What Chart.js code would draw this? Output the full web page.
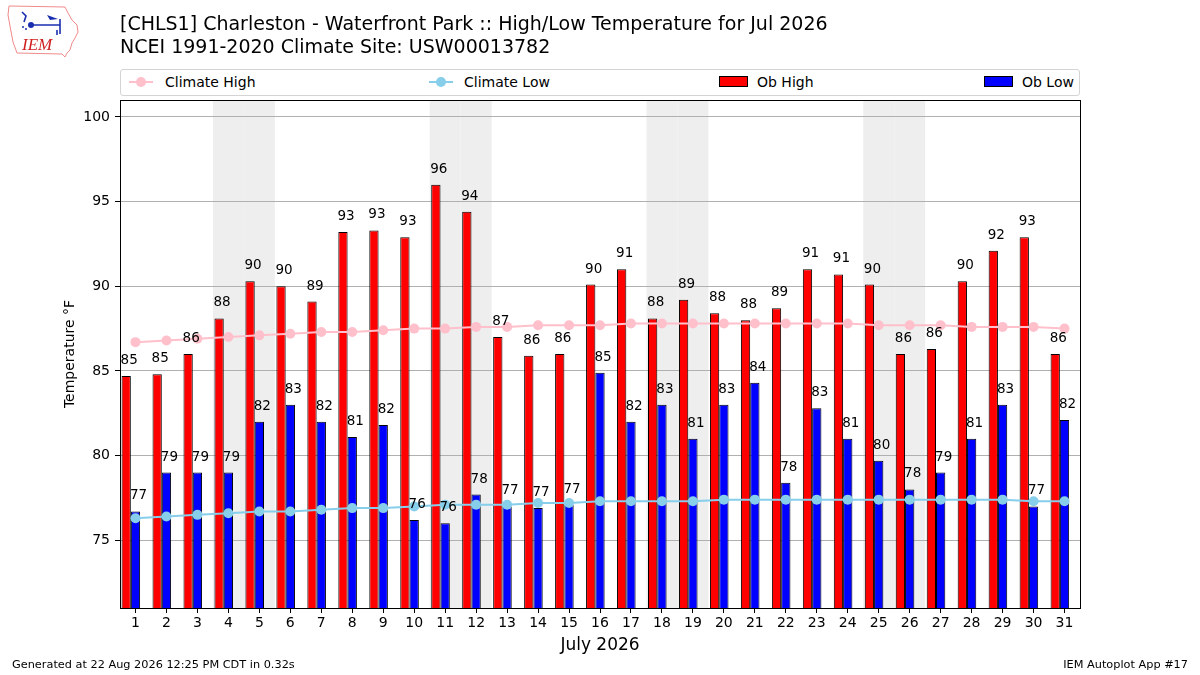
<!DOCTYPE html>
<html>
<head>
<meta charset="utf-8">
<script src="https://cdn.jsdelivr.net/npm/chart.js@4.4.1/dist/chart.umd.min.js"></script>
<style>
body { margin: 0; background: #fff; font-family: "DejaVu Sans", sans-serif; }
#wrap { position: relative; width: 1200px; height: 675px; overflow: hidden; }
#chart { position: absolute; left: 0; top: 0; }
.t { position: absolute; white-space: nowrap; color: #000; }
#legend { position: absolute; left: 120px; top: 69px; width: 958px; height: 25px;
  border: 1px solid #d4d4d4; border-radius: 3px; background: #fff; }
.sw { position: absolute; }
</style>
</head>
<body>
<div id="wrap">
  <canvas id="chart" width="1200" height="675"></canvas>

  <!-- IEM logo -->
  <svg class="sw" style="left:0;top:0" width="90" height="65" viewBox="0 0 90 65">
    <path d="M9,6 L65,7 L68,13 L72,20 L77,25 L78,32 L75,38 L72,43 L70,50 L67,53 L65,57 L62,54 L17,53 L13,42 L10,26 L8,15 Z"
          fill="none" stroke="#f08a8a" stroke-width="1"/>
    <path d="M22,12 L26,16 L24,22 M31,25 L60,25 M60,19 L60,34 M57,30 L57,35" stroke="#1a2fb0" stroke-width="1.6" fill="none"/>
    <path d="M47,15 L58,19 L50,20 Z" fill="#1a2fb0"/>
    <circle cx="31" cy="25" r="3" fill="#1a2fb0"/>
    <circle cx="23" cy="27" r="1" fill="#1a2fb0"/>
    <circle cx="26" cy="29" r="1" fill="#1a2fb0"/>
    <text x="22" y="50" font-family="Liberation Serif" font-style="italic" font-size="17" fill="#d02020">IEM</text>
  </svg>

  <div class="t" style="left:120px;top:12px;font-size:19px;line-height:23px">[CHLS1] Charleston - Waterfront Park :: High/Low Temperature for Jul 2026</div>
  <div class="t" style="left:120px;top:35px;font-size:19px;line-height:23px">NCEI 1991-2020 Climate Site: USW00013782</div>

  <div id="legend">
    <svg class="sw" style="left:7px;top:5px" width="26" height="14"><line x1="1" y1="7" x2="25" y2="7" stroke="#ffc0cb" stroke-width="2"/><circle cx="13" cy="7" r="5" fill="#ffc0cb"/></svg>
    <div class="t" style="left:44px;top:3px;font-size:14px;line-height:18px">Climate High</div>
    <svg class="sw" style="left:307px;top:5px" width="26" height="14"><line x1="1" y1="7" x2="25" y2="7" stroke="#87ceeb" stroke-width="2"/><circle cx="13" cy="7" r="5" fill="#87ceeb"/></svg>
    <div class="t" style="left:343px;top:3px;font-size:14px;line-height:18px">Climate Low</div>
    <div class="sw" style="left:598px;top:6px;width:27px;height:9px;background:#ff0000;border:1px solid #000"></div>
    <div class="t" style="left:636px;top:3px;font-size:14px;line-height:18px">Ob High</div>
    <div class="sw" style="left:863px;top:6px;width:27px;height:9px;background:#0000ff;border:1px solid #000"></div>
    <div class="t" style="left:901px;top:3px;font-size:14px;line-height:18px">Ob Low</div>
  </div>

  <div class="t" style="left:12px;top:658px;font-size:11.3px;line-height:14px">Generated at 22 Aug 2026 12:25 PM CDT in 0.32s</div>
  <div class="t" style="right:12px;top:658px;font-size:11.3px;line-height:14px">IEM Autoplot App #17</div>
</div>

<script>
// days of July 2026
var days = ['1','2','3','4','5','6','7','8','9','10','11','12','13','14','15','16',
            '17','18','19','20','21','22','23','24','25','26','27','28','29','30','31'];

// observed high / low (F)
var obHigh = [84.7, 84.8, 86.0, 88.1, 90.3, 90.0, 89.1, 93.2, 93.3, 92.9, 96.0, 94.4, 87.0, 85.9, 86.0, 90.1,
              91.0, 88.1, 89.2, 88.4, 88.0, 88.7, 91.0, 90.7, 90.1, 86.0, 86.3, 90.3, 92.1, 92.9, 86.0];
var obLow  = [76.7, 79.0, 79.0, 79.0, 82.0, 83.0, 82.0, 81.1, 81.8, 76.2, 76.0, 77.7, 77.0, 76.9, 77.1, 84.9,
              82.0, 83.0, 81.0, 83.0, 84.3, 78.4, 82.8, 81.0, 79.7, 78.0, 79.0, 81.0, 83.0, 77.0, 82.1];

// NCEI climate averages
var climHigh = [86.7, 86.8, 86.9, 87.0, 87.1, 87.2, 87.3, 87.3, 87.4, 87.5, 87.5, 87.6, 87.6, 87.7, 87.7, 87.7,
                87.8, 87.8, 87.8, 87.8, 87.8, 87.8, 87.8, 87.8, 87.7, 87.7, 87.7, 87.6, 87.6, 87.6, 87.5];
var climLow  = [76.3, 76.4, 76.5, 76.6, 76.7, 76.7, 76.8, 76.9, 76.9, 77.0, 77.1, 77.1, 77.1, 77.2, 77.2, 77.3,
                77.3, 77.3, 77.3, 77.4, 77.4, 77.4, 77.4, 77.4, 77.4, 77.4, 77.4, 77.4, 77.4, 77.3, 77.3];

var yTicks = [75, 80, 85, 90, 95, 100];
var weekendDays = [4, 5, 11, 12, 18, 19, 25, 26];

var FONT = 'DejaVu Sans';

// grey bands behind the weekends
var weekendShade = {
  id: 'weekendShade',
  beforeDraw: function(chart) {
    var ctx = chart.ctx, area = chart.chartArea, x = chart.scales.x;
    var step = x.getPixelForValue(1) - x.getPixelForValue(0);
    ctx.save();
    ctx.fillStyle = '#eeeeee';
    weekendDays.forEach(function(d) {
      var c = x.getPixelForValue(d - 1);
      ctx.fillRect(c - step / 2, area.top, step, area.bottom - area.top);
    });
    ctx.restore();
  }
};

// rounded values above the bars + black frame
var barLabels = {
  id: 'barLabels',
  afterDatasetsDraw: function(chart) {
    var ctx = chart.ctx;
    ctx.save();
    ctx.font = '13.5px "' + FONT + '"';
    ctx.fillStyle = '#000';
    ctx.textAlign = 'center';
    ctx.textBaseline = 'alphabetic';
    [0, 1].forEach(function(i) {
      var vals = chart.data.datasets[i].data;
      chart.getDatasetMeta(i).data.forEach(function(bar, j) {
        ctx.fillText(Math.round(vals[j]), bar.x + 3, bar.y - 12);
      });
    });
    ctx.restore();
  },
  afterDraw: function(chart) {
    var ctx = chart.ctx, a = chart.chartArea;
    ctx.save();
    ctx.strokeStyle = '#000';
    ctx.lineWidth = 1;
    ctx.strokeRect(Math.round(a.left) + 0.5, Math.round(a.top) + 0.5,
                   Math.round(a.right - a.left), Math.round(a.bottom - a.top));
    ctx.restore();
  }
};

// empty third slot keeps the red/blue pair left of the day tick
var spacer = days.map(function() { return null; });

new Chart(document.getElementById('chart').getContext('2d'), {
  type: 'bar',
  data: {
    labels: days,
    datasets: [
      { label: 'Ob High', data: obHigh, backgroundColor: '#ff0000', borderColor: '#000', borderWidth: 1, order: 2 },
      { label: 'Ob Low', data: obLow, backgroundColor: '#0000ff', borderColor: '#000', borderWidth: 1, order: 2 },
      { label: '', data: spacer, order: 2 },
      { type: 'line', label: 'Climate High', data: climHigh, borderColor: '#ffc0cb', backgroundColor: '#ffc0cb',
        borderWidth: 2, pointRadius: 5, pointBorderWidth: 0, pointBackgroundColor: '#ffc0cb', order: 1 },
      { type: 'line', label: 'Climate Low', data: climLow, borderColor: '#87ceeb', backgroundColor: '#87ceeb',
        borderWidth: 2, pointRadius: 5, pointBorderWidth: 0, pointBackgroundColor: '#87ceeb', order: 1 }
    ]
  },
  options: {
    responsive: false,
    animation: false,
    devicePixelRatio: 1,
    datasets: { bar: { categoryPercentage: 0.9, barPercentage: 1.0, grouped: true } },
    layout: { padding: { left: 58, right: 120, top: 100, bottom: 0 } },
    plugins: { legend: { display: false }, tooltip: { enabled: false }, title: { display: false } },
    scales: {
      x: {
        offset: true,
        grid: { offset: false, drawOnChartArea: false, tickColor: '#000', tickLength: 5 },
        border: { display: false },
        ticks: { color: '#000', font: { family: FONT, size: 14 }, padding: 2, autoSkip: false, maxRotation: 0 },
        title: { display: true, text: 'July 2026', color: '#000', font: { family: FONT, size: 17 },
                 padding: { top: 0, bottom: 19 } },
        afterFit: function(s) { s.height = 67; }
      },
      y: {
        min: 71,
        max: 101,
        grid: { color: '#b0b0b0', tickColor: '#000', tickLength: 5 },
        border: { display: false },
        afterBuildTicks: function(s) { s.ticks = yTicks.map(function(v) { return { value: v }; }); },
        ticks: { color: '#000', font: { family: FONT, size: 14 }, padding: 5 },
        title: { display: true, text: 'Temperature °F', color: '#000', font: { family: FONT, size: 14 },
                 padding: { top: 4, bottom: 4 } },
        afterFit: function(s) { s.width = 62; }
      }
    }
  },
  plugins: [weekendShade, barLabels]
});
</script>
</body>
</html>
